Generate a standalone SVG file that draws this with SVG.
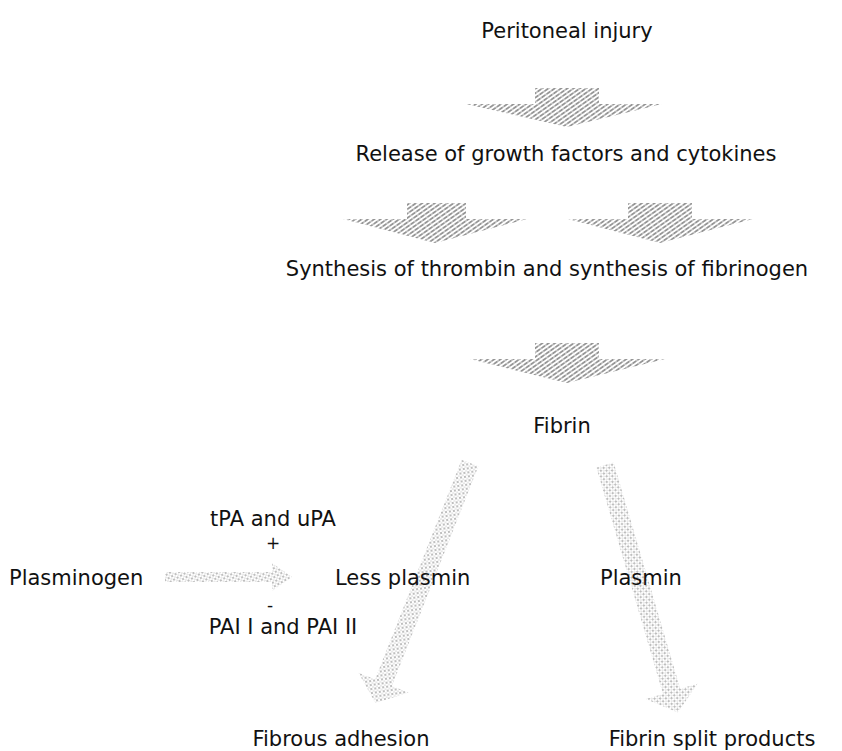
<svg xmlns="http://www.w3.org/2000/svg" width="842" height="751" viewBox="0 0 842 751">
<defs>
<style>
text{font-family:"DejaVu Sans","Liberation Sans",sans-serif;font-size:21px;fill:#111}
.c{text-anchor:middle}
.sm{font-size:17px}
.blk{fill:url(#hatch)}
.dot{fill:url(#dots)}
</style>
<pattern id="hatch" patternUnits="userSpaceOnUse" width="6" height="3.6" patternTransform="rotate(-35)">
<line x1="0" y1="1.8" x2="6" y2="1.8" stroke="#222" stroke-width="0.9" stroke-dasharray="2.6 0.8"/>
</pattern>
<pattern id="dots" patternUnits="userSpaceOnUse" width="4" height="4" patternTransform="rotate(-30)">
<circle cx="1" cy="1" r="0.65" fill="#444"/>
<circle cx="3" cy="3" r="0.5" fill="#888"/>
</pattern>
</defs>
<rect width="842" height="751" fill="#fff"/>
<g id="connectors">
<polygon class="blk" points="535,88 599,88 599,104 662,104 567,127 466,104 535,104"/>
<polygon class="blk" points="407,203 466,203 466,219 527,219 435,243 343,219 407,219"/>
<polygon class="blk" points="628,203 692,203 692,219 753,219 660,243 568,219 628,219"/>
<polygon class="blk" points="535,343 599,343 599,359 665,359 567,383 470,359 535,359"/>
<polygon class="dot" points="165,572 272,572 272,563 292,577 272,591 272,582 165,582"/>
<g transform="translate(470,463) rotate(21.5)">
<polygon class="dot" points="-9,0 9,0 9,236 27,236 0,258 -27,236 -9,236"/>
</g>
<g transform="translate(605,465) rotate(-16.4)">
<polygon class="dot" points="-9,0 9,0 9,236 27,236 0,258 -27,236 -9,236"/>
</g>
</g>
<g id="n-injury"><text class="c" x="567" y="38">Peritoneal injury</text></g>
<g id="n-release"><text class="c" x="566" y="161">Release of growth factors and cytokines</text></g>
<g id="n-synthesis"><text class="c" x="547" y="276">Synthesis of thrombin and synthesis of fibrinogen</text></g>
<g id="n-fibrin"><text class="c" x="562" y="433">Fibrin</text></g>
<g id="n-tpa"><text class="c" x="273" y="526">tPA and uPA</text><text class="c sm" x="273" y="549">+</text></g>
<g id="n-plasminogen"><text x="9" y="585">Plasminogen</text></g>
<g id="n-less"><text x="335" y="585">Less plasmin</text></g>
<g id="n-plasmin"><text x="600" y="585">Plasmin</text></g>
<g id="n-pai"><text class="c sm" x="270" y="611">-</text><text class="c" x="283" y="634">PAI I and PAI II</text></g>
<g id="n-adhesion"><text class="c" x="341" y="746">Fibrous adhesion</text></g>
<g id="n-split"><text class="c" x="712" y="746">Fibrin split products</text></g>
</svg>
